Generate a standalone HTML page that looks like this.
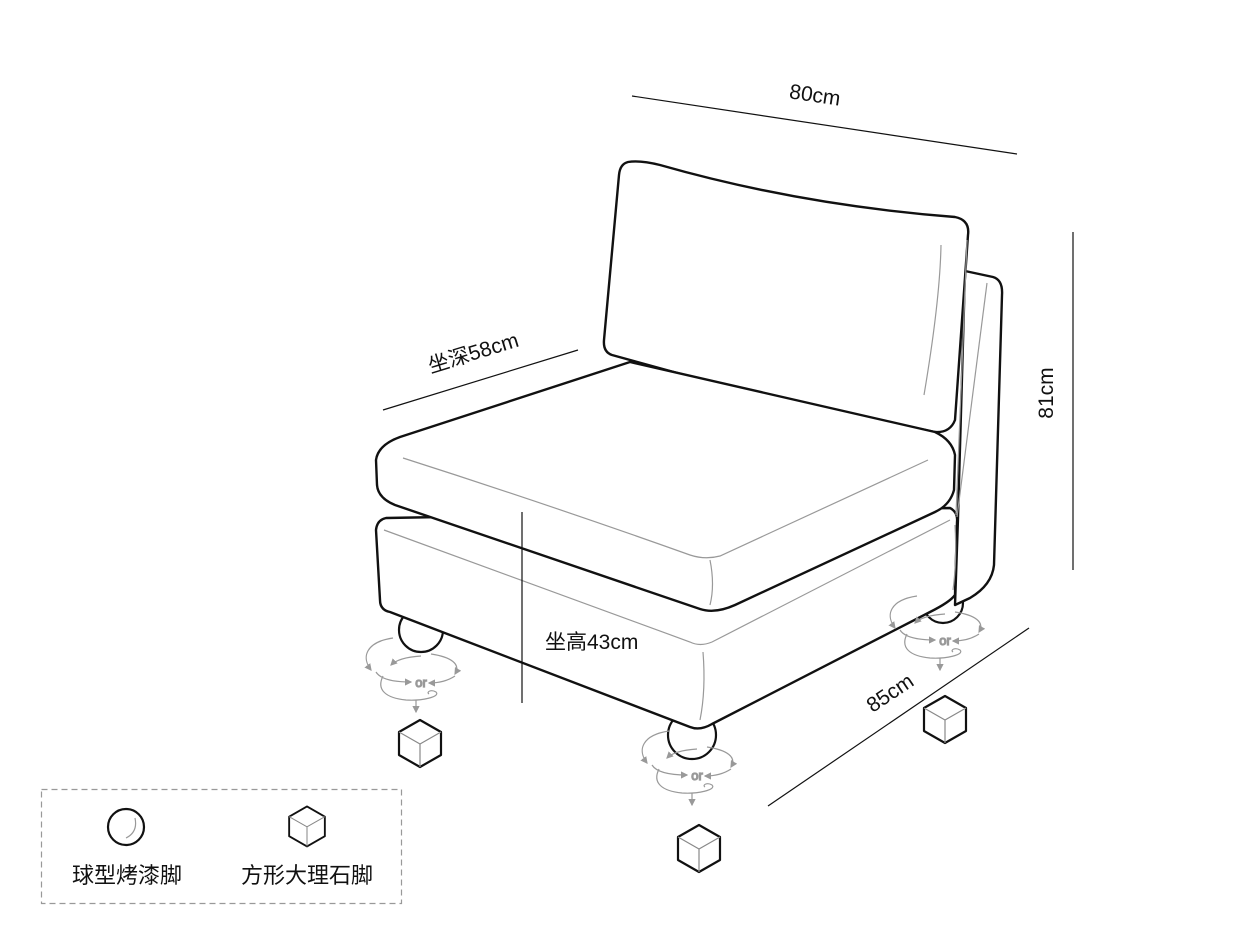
<!DOCTYPE html>
<html><head><meta charset="utf-8"><style>
html,body{margin:0;padding:0;background:#fff;width:1240px;height:945px;overflow:hidden}
svg{display:block}
text{font-family:"Liberation Sans","Noto Sans CJK SC",sans-serif;fill:#111}
</style></head><body>
<svg width="1240" height="945" viewBox="0 0 1240 945" xmlns="http://www.w3.org/2000/svg">
<defs>
<marker id="ar" markerWidth="6" markerHeight="6" refX="5" refY="3" orient="auto"><path d="M0,0 L6,3 L0,6" fill="#999"/></marker>
<g id="cube" fill="#fff" stroke="#111" stroke-width="2.2" stroke-linejoin="round">
<path d="M0,-23 L21,-11 L21,12 L0,24 L-21,12 L-21,-11 Z"/>
<path d="M-21,-11 L0,1 L21,-11 M0,1 L0,24" stroke="#888" stroke-width="1.2"/>
</g>
<g id="rot" fill="none" stroke="#999" stroke-width="1.2">
<path d="M-28,-44 C-55,-40 -60,-25 -50,-12" marker-end="url(#ar)"/>
<path d="M10,-28 C30,-25 40,-18 34,-8" marker-end="url(#ar)"/>
<path d="M0,-26 C-15,-25 -25,-22 -30,-17" marker-end="url(#ar)"/>
<path d="M-45,-10 C-40,-2 -25,0 -10,0" marker-end="url(#ar)"/>
<path d="M34,-6 C25,0 15,1 8,1" marker-end="url(#ar)"/>
<path d="M-38,-6 C-45,8 -35,16 -15,18 C0,19 20,15 15,10 C10,7 5,10 8,12"/>
<path d="M-5,18 L-5,30" marker-end="url(#ar)"/>
<text x="0" y="5" font-size="13" text-anchor="middle" style="fill:#888">or</text>
</g>
</defs>

<!-- balls -->
<g fill="#fff" stroke="#111" stroke-width="2.2">
<circle cx="421" cy="630" r="22"/>
<circle cx="692" cy="735" r="24"/>
<circle cx="943" cy="603" r="20"/>
</g>

<g stroke="#111" stroke-width="2.4" fill="#fff" stroke-linejoin="round">
<path d="M965,271 L993,277 Q1003,280 1002,295 L994,565 Q992,585 970,598 L955,605 L958,518 Z"/>
<path d="M386,518 L950,508 Q958,512 957,522 L955,595 Q950,602 930,612 L712,724 Q700,731 690,727 L390,612 Q380,610 380,600 L376,530 Q377,520 386,518 Z"/>
<path d="M628,162 Q640,160 660,165 Q800,205 955,217 Q970,220 968,235 L955,420 Q950,433 935,432 Q900,425 750,393 L612,355 Q603,352 604,340 L619,175 Q620,164 628,162 Z"/>
<path d="M630,362 L935,432 Q952,440 955,455 L954,490 Q950,505 935,512 L735,605 Q715,614 700,609 L395,505 Q378,498 377,485 L376,460 Q378,445 400,437 Z"/>
</g>
<g stroke="#999" stroke-width="1.2" fill="none">
<path d="M941,245 Q940,300 924,395"/>
<path d="M987,283 L957,517"/>
<path d="M967,240 L956,515"/>
<path d="M403,458 Q550,505 690,555 Q705,560 720,556 L928,460"/>
<path d="M710,560 Q715,585 710,605"/>
<path d="M384,530 L690,642 Q700,647 712,642 L950,520"/>
<path d="M703,652 Q706,690 700,720"/>
<path d="M955,525 Q957,560 953,590"/>
</g>

<!-- dimension lines -->
<g stroke="#111" stroke-width="1.2" fill="none">
<line x1="632" y1="96" x2="1017" y2="154"/>
<line x1="1073" y1="232" x2="1073" y2="570"/>
<line x1="383" y1="410" x2="578" y2="350"/>
<line x1="768" y1="806" x2="1029" y2="628"/>
<line x1="522" y1="512" x2="522" y2="703"/>
</g>
<text x="815" y="102" font-size="21" text-anchor="middle" transform="rotate(8.5 815 95)">80cm</text>
<text x="1053" y="393" font-size="21" text-anchor="middle" transform="rotate(-90 1053 393)">81cm</text>
<text x="473" y="360" font-size="21" text-anchor="middle" transform="rotate(-17 473 352)">坐深58cm</text>
<text x="890" y="700" font-size="21" text-anchor="middle" transform="rotate(-34 890 693)">85cm</text>
<text x="545" y="649" font-size="21">坐高43cm</text>

<use href="#rot" x="421" y="682"/>
<use href="#rot" x="697" y="775"/>
<use href="#rot" x="945" y="640"/>
<use href="#cube" x="420" y="743"/>
<use href="#cube" x="699" y="848"/>
<use href="#cube" x="945" y="719"/>

<rect x="41.5" y="789.5" width="360" height="114" fill="none" stroke="#999" stroke-width="1.2" stroke-dasharray="6,4"/>
<circle cx="126" cy="827" r="18" fill="#fff" stroke="#111" stroke-width="2.2"/>
<path d="M135,818 Q138,832 126,838" fill="none" stroke="#999" stroke-width="1.2"/>
<use href="#cube" transform="translate(307 826) scale(0.85)"/>
<text x="127" y="883" font-size="22" text-anchor="middle">球型烤漆脚</text>
<text x="307" y="883" font-size="22" text-anchor="middle">方形大理石脚</text>
</svg>
</body></html>
